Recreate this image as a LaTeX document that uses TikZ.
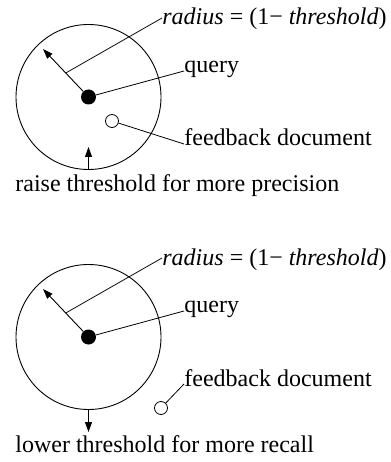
\documentclass[tikz,border=0pt]{standalone}
\usepackage{fontspec}
\setmainfont{Liberation Serif}
\usepackage{tikz}
\usetikzlibrary{arrows.meta, calc, positioning}
\tikzstyle{arrow} = [line width=0.9pt,-{Triangle[length=10pt,width=7pt]}]
\tikzstyle{ring} = [circle, draw, line width=0.9pt, minimum size=145pt, inner sep=0pt]
\tikzstyle{qdot} = [circle, fill, minimum size=15pt, inner sep=0pt]
\tikzstyle{doc} = [circle, draw, line width=0.8pt, minimum size=13pt, inner sep=0pt]
\tikzstyle{lbl} = [inner sep=0pt, anchor=base west, font=\fontsize{24}{28}\selectfont]

\begin{document}
\begin{tikzpicture}[x=1pt, y=-1pt, line width=0.8pt]
			\useasboundingbox (0,0) rectangle (390,462);
			
			% Upper panel: raise the threshold
			\node[ring] (c1) at (88.5,97) {};
			\node[qdot] (q1) at (88.5,97) {};
			\node[doc] (fb1) at (112,121) {};
			\coordinate (r1) at (43,49);
			\coordinate (up1) at (88.5,147);
			\node[lbl] (rad1) at (162,25) {\textit{radius} = (1− \textit{threshold})};
			\node[lbl] (qry1) at (184,72.5) {query};
			\node[lbl] (fbt1) at (184,146) {feedback document};
			\node[lbl] (cap1) at (15,192) {raise threshold for more precision};
			
			\draw[arrow] (q1) -- (r1);
			\draw ($(q1)!0.5!(r1)$) -- ([yshift=7pt]rad1.base west);
			\draw (q1) -- ([yshift=1.5pt]qry1.base west);
			\draw (fb1) -- ([yshift=2pt]fbt1.base west);
			\draw[arrow] (c1.south) -- (up1);
			
			% Lower panel: lower the threshold
			\node[ring] (c2) at (88.5,337) {};
			\node[qdot] (q2) at (88.5,337) {};
			\node[doc] (fb2) at (161,408) {};
			\coordinate (r2) at (43,289);
			\coordinate (down2) at (88.5,432);
			\node[lbl] (rad2) at (162,265) {\textit{radius} = (1− \textit{threshold})};
			\node[lbl] (qry2) at (184,312.5) {query};
			\node[lbl] (fbt2) at (184,386) {feedback document};
			\node[lbl] (cap2) at (15,452) {lower threshold for more recall};
			
			\draw[arrow] (q2) -- (r2);
			\draw ($(q2)!0.5!(r2)$) -- ([yshift=7pt]rad2.base west);
			\draw (q2) -- ([yshift=1.5pt]qry2.base west);
			\draw (fb2) -- ([yshift=2pt]fbt2.base west);
			\draw[arrow] (c2.south) -- (down2);
			
		\end{tikzpicture}
\end{document}
